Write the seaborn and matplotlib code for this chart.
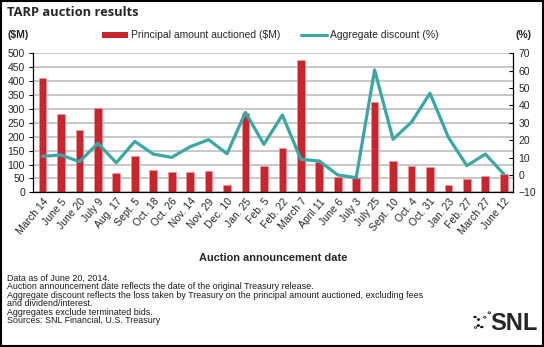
import numpy as np
import pandas as pd
import matplotlib
matplotlib.use("Agg")
import matplotlib.pyplot as plt
from matplotlib.lines import Line2D
from matplotlib.patches import Patch, Rectangle, Circle
import seaborn as sns

# Auction announcement dates (category axis)
dates = ["March 14", "June 5", "June 20", "July 9", "Aug. 17", "Sept. 5",
         "Oct. 18", "Oct. 26", "Nov. 14", "Nov. 29", "Dec. 10", "Jan. 25",
         "Feb. 5", "Feb. 22", "March 7", "April 11", "June 6", "July 3",
         "July 25", "Sept. 10", "Oct. 4", "Oct. 31", "Jan. 23", "Feb. 27",
         "March 27", "June 12"]

# Principal amount auctioned ($M)
principal = [411, 280, 224, 304, 68, 132, 80, 74, 73, 78, 27, 287,
             93, 158, 476, 108, 55, 52, 325, 113, 94, 91, 26, 47,
             57, 65]

# Aggregate discount (%)
discount = [10.7, 11.5, 7.6, 18.2, 7.0, 19.3, 12.0, 10.1, 16.2, 20.3,
            12.2, 36.0, 17.6, 34.5, 9.0, 8.0, 0.0, -1.6, 60.4, 20.5,
            30.4, 47.0, 21.6, 5.3, 12.0, 0.5]

footnotes = [
    "Data as of June 20, 2014.",
    "Auction announcement date reflects the date of the original Treasury release.",
    "Aggregate discount reflects the loss taken by Treasury on the principal amount auctioned, excluding fees",
    "and dividend/interest.",
    "Aggregates exclude terminated bids.",
    "Sources: SNL Financial, U.S. Treasury",
]

RED = "#C9252F"
TEAL = "#3AA7A5"

sns.set_style("white")
plt.rcParams["font.family"] = ["Liberation Sans", "DejaVu Sans"]

df = pd.DataFrame({"date": dates, "principal": principal, "discount": discount,
                   "pos": np.arange(len(dates))})

W, H = 544, 347
fig = plt.figure(figsize=(W / 100, H / 100), dpi=100)
fig.patch.set_facecolor("white")

x0, x1, y0, y1 = 33.3, 513, 53.3, 192.3
ax = fig.add_axes([x0 / W, 1 - y1 / H, (x1 - x0) / W, (y1 - y0) / H])

sns.barplot(data=df, x="date", y="principal", order=dates, color=RED,
            width=0.42, saturation=1, ax=ax, edgecolor="#E79AA0", linewidth=0.4)
ax.set_xlim(-0.5, len(dates) - 0.5)
ax.set_ylim(0, 500)
ax.set_yticks(np.arange(0, 501, 50))
ax.set_axisbelow(True)
ax.yaxis.grid(True, color="#C4C4C4", linewidth=1.3)
ax.xaxis.grid(False)
ax.set_xlabel("")
ax.set_ylabel("")

ax2 = ax.twinx()
sns.lineplot(data=df, x="pos", y="discount", color=TEAL, linewidth=2.3,
             sort=False, ax=ax2)
ax2.set_ylim(-10, 70)
ax2.set_yticks(np.arange(-10, 71, 10))
ax2.set_xlim(-0.5, len(dates) - 0.5)
ax2.set_xlabel("")
ax2.set_ylabel("")
ax2.grid(False)

for a in (ax, ax2):
    a.spines["top"].set_visible(False)
    for s in a.spines.values():
        s.set_color("black")
        s.set_linewidth(0.9)
ax.spines["right"].set_visible(False)
ax2.spines["left"].set_visible(False)
ax2.spines["bottom"].set_visible(False)

ax.set_xticks(np.arange(len(dates)))
ax.set_xticklabels(dates, rotation=50, ha="right", rotation_mode="anchor",
                   fontsize=7.5)
ax.tick_params(axis="x", which="major", length=0, pad=3)
ax.set_xticks(np.arange(-0.5, len(dates), 1.0), minor=True)
ax.tick_params(axis="x", which="minor", length=3.5, width=0.8, color="black",
               direction="out")
ax.tick_params(axis="y", length=3, width=0.8, direction="out", pad=3,
               labelsize=7.5, color="black")
ax2.tick_params(axis="y", length=3, width=0.8, direction="in", pad=4,
                labelsize=7.5, color="black")

# Legend
handles = [Patch(facecolor=RED, edgecolor="none"),
           Line2D([0], [0], color=TEAL, linewidth=2.3)]
labels = ["Principal amount auctioned ($M)", "Aggregate discount (%)"]
fig.legend(handles, labels, loc="center left",
           bbox_to_anchor=(101.5 / W, 1 - 35.5 / H), ncol=2, frameon=False,
           fontsize=7.5, handlelength=2.5, handleheight=0.55,
           handletextpad=0.3, columnspacing=2.0, borderpad=0,
           borderaxespad=0)

# Titles and axis captions
fig.text(7 / W, 1 - 12 / H, "TARP auction results", fontsize=9.3,
         fontweight="bold", family=["Open Sans", "DejaVu Sans"],
         ha="left", va="center")
fig.text(7 / W, 1 - 35 / H, "($M)", fontsize=7.5, fontweight="bold",
         ha="left", va="center")
fig.text(516 / W, 1 - 35 / H, "(%)", fontsize=7.5, fontweight="bold",
         ha="left", va="center")
fig.text(273 / W, 1 - 258 / H, "Auction announcement date", fontsize=7.9,
         fontweight="bold", ha="center", va="center")

# Notes and sources
for i, line in enumerate(footnotes):
    yy = [278, 286.7, 295.3, 303, 312.3, 320.5][i]
    fig.text(7 / W, 1 - yy / H, line, fontsize=6.4, color="#1a1a1a",
             ha="left", va="center")

# SNL mark
fig.text(538 / W, 1 - 324 / H, "SNL", fontsize=17, fontweight="bold",
         ha="right", va="center")
for (cx, cy, filled) in [(475, 317, True), (478.5, 319.5, True),
                         (478.3, 325.5, True), (481.8, 327, True),
                         (475.5, 327.5, False), (484.8, 317.3, False),
                         (489.3, 312.7, False)]:
    fig.add_artist(Circle((cx / W, 1 - cy / H), 1.3 / W,
                          transform=fig.transFigure,
                          facecolor="black" if filled else "white",
                          edgecolor="black", linewidth=0.5))

# Outer frame
fig.add_artist(Rectangle((0.75 / W, 0.75 / H), (W - 1.5) / W, (H - 1.5) / H,
                         transform=fig.transFigure, fill=False,
                         edgecolor="black", linewidth=1.5))

fig.savefig("out.png", dpi=100, facecolor="white")
